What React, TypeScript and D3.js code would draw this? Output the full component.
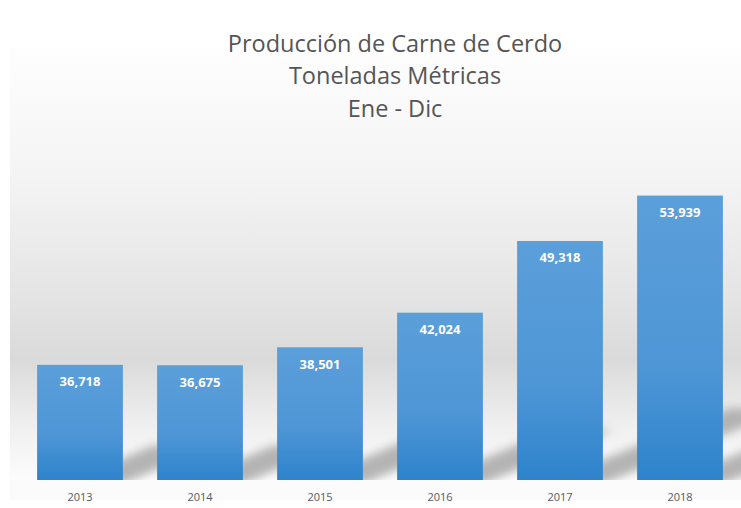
import React from "react";
import * as d3 from "d3";

const years = ["2013", "2014", "2015", "2016", "2017", "2018"];
const production = [36718, 36675, 38501, 42024, 49318, 53939];
const titleLines = ["Producción de Carne de Cerdo", "Toneladas Métricas", "Ene - Dic"];

const W = 741;
const H = 508;
const baseY = 480;

export default function App() {
  const x = d3.scaleBand<string>().domain(years).range([20, 740]).paddingInner(0.285).paddingOuter(0.1425);
  // the value axis does not start at zero in the original
  const y = d3.scaleLinear().domain([25000, 60000]).range([baseY, 136]);
  const fmt = d3.format(",");

  return (
    <svg
      width={W}
      height={H}
      style={{ position: "absolute", left: 0, top: 0, background: "#fff" }}
      fontFamily="'Open Sans', sans-serif"
    >
      <defs>
        <linearGradient id="wall" x1="0" y1="0" x2="0" y2="1">
          <stop offset="0" stopColor="#fefefe" />
          <stop offset="0.3" stopColor="#f4f4f4" />
          <stop offset="0.58" stopColor="#e4e4e4" />
          <stop offset="0.72" stopColor="#dadada" />
          <stop offset="0.88" stopColor="#f0f0f0" />
          <stop offset="0.96" stopColor="#f8f8f8" />
          <stop offset="1" stopColor="#fcfcfc" />
        </linearGradient>
        <linearGradient id="bar" x1="0" y1="0" x2="0" y2="1">
          <stop offset="0" stopColor="#5b9fda" />
          <stop offset="0.6" stopColor="#4e96d6" />
          <stop offset="1" stopColor="#2e83cb" />
        </linearGradient>
        <filter id="blur" x="-50%" y="-50%" width="200%" height="200%">
          <feGaussianBlur stdDeviation="5" />
        </filter>
        <clipPath id="floor">
          <rect x={10} y={47} width={W - 10} height={baseY - 47} />
        </clipPath>
      </defs>

      <rect x={10} y={47} width={W - 10} height={baseY - 47} fill="url(#wall)" />
      <rect x={10} y={baseY} width={W - 10} height={20} fill="#fbfbfb" />

      <g clipPath="url(#floor)">
        <g filter="url(#blur)">
          {production.map((v, i) => {
            const x0 = x(years[i])!;
            const bw = x.bandwidth();
            const h = baseY - y(v);
            const dy = h * 0.3;
            const dx = dy * 2.6;
            const pts = [
              [x0 + bw * 0.3, baseY + 4],
              [x0 + bw, baseY + 4],
              [x0 + bw + dx, baseY - dy],
              [x0 + bw * 0.3 + dx, baseY - dy],
            ];
            return <polygon key={"s" + i} points={pts.map((p) => p.join(",")).join(" ")} fill="#acacac" opacity={0.9} />;
          })}
        </g>
      </g>

      {production.map((v, i) => (
        <g key={years[i]}>
          <rect x={x(years[i])} y={y(v)} width={x.bandwidth()} height={baseY - y(v)} fill="url(#bar)" />
          <text
            x={x(years[i])! + x.bandwidth() / 2}
            y={y(v) + 21.5}
            textAnchor="middle"
            fontSize={13}
            fontWeight="bold"
            fill="#ffffff"
          >
            {fmt(v)}
          </text>
          <text x={x(years[i])! + x.bandwidth() / 2} y={501} textAnchor="middle" fontSize={11} fill="#595959">
            {years[i]}
          </text>
        </g>
      ))}

      {titleLines.map((t, i) => (
        <text key={t} x={395} y={51.5 + i * 32.5} textAnchor="middle" fontSize={23.5} fill="#555555">
          {t}
        </text>
      ))}
    </svg>
  );
}
